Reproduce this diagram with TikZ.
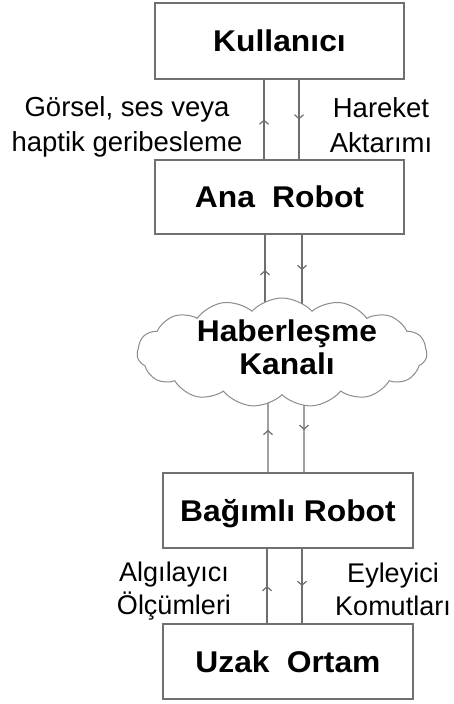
\documentclass[tikz,border=0pt]{standalone}
\usepackage{fontspec}
\setmainfont{Liberation Sans}
\newfontfamily\boxfont[FakeStretch=1.06]{Liberation Sans}
\usetikzlibrary{shapes.symbols,arrows.meta,decorations.markings,backgrounds}
\definecolor{edgec}{HTML}{707070}
\definecolor{linec}{HTML}{6E6E6E}
\definecolor{cloudc}{HTML}{8C8C8C}
\begin{document}
\begin{tikzpicture}[x=1pt,y=-1pt,
  box/.style={draw=edgec, line width=1.3pt, minimum width=249pt, minimum height=75pt,
    inner sep=0pt, font=\boxfont\bfseries\fontsize{30}{33}\selectfont,
    text height=21pt, text depth=0pt},
  lbl/.style={align=center, inner sep=0pt, font=\fontsize{27.5}{35}\selectfont},
  lblb/.style={align=center, inner sep=0pt, font=\fontsize{27}{33}\selectfont},
  link/.style={draw=linec, line width=1.3pt, postaction={decorate},
    decoration={markings, mark=at position 0.5 with {\arrow{Straight Barb[length=4pt,width=9pt,line width=1.2pt]}}}}
]
\useasboundingbox (0,0) rectangle (453,704);

\node[box, minimum height=76pt] (kul) at (279.5,41) {Kullanıcı};
\node[box, minimum height=74pt] (ana) at (279.5,197) {Ana\hspace{0.28em} Robot};
\node[box, minimum width=250pt] (bag) at (288,510.5) {Bağımlı Robot};
\node[box, minimum width=250pt] (uz) at (288,661.5) {Uzak\hspace{0.28em} Ortam};

\node[cloud, cloud puffs=15, cloud puff arc=95, cloud ignores aspect,
  minimum width=290pt, minimum height=109pt, draw=cloudc, line width=1pt,
  fill=white, inner sep=0pt] (cloud) at (282,352.5) {};
\node[align=center, inner sep=0pt, font=\boxfont\bfseries\fontsize{30}{33}\selectfont]
  (cloudtxt) at (287,347) {Haberleşme\\Kanalı};

\node[lbl] (l1) at (127,127) {Görsel, ses veya\\haptik geribesleme};
\node[lbl] (r1) at (381,125) {Hareket\\Aktarımı};
\node[lblb] (l2) at (174,591.5) {Algılayıcı\\Ölçümleri};
\node[lblb] (r2) at (393,589) {Eyleyici\\Komutları};

\begin{pgfonlayer}{background}
\fill[white] (0,0) rectangle (453,704);
\draw[link] ([xshift=-15.5pt]ana.north) -- ([xshift=-15.5pt]kul.south);
\draw[link] ([xshift=19.5pt]kul.south) -- ([xshift=19.5pt]ana.north);

\draw[link] ([xshift=-17pt,yshift=-8pt]cloud.north) -- ([xshift=-14.5pt]ana.south);
\draw[link] ([xshift=22.5pt]ana.south) -- ([xshift=20pt,yshift=-8pt]cloud.north);

\draw[link] ([xshift=-20pt]bag.north) -- ([xshift=-14pt,yshift=8pt]cloud.south);
\draw[link] ([xshift=22pt,yshift=8pt]cloud.south) -- ([xshift=16pt]bag.north);

\draw[link] ([xshift=-21pt]uz.north) -- ([xshift=-21pt]bag.south);
\draw[link] ([xshift=14pt]bag.south) -- ([xshift=14pt]uz.north);
\end{pgfonlayer}
\end{tikzpicture}
\end{document}
